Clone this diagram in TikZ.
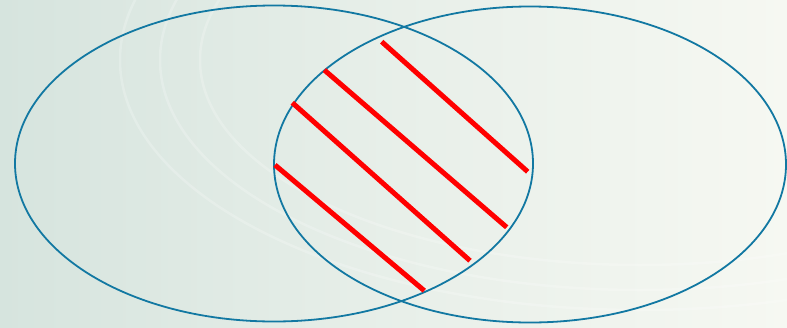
\documentclass[tikz,border=0pt]{standalone}
\usepackage{xcolor}
\usepackage{tikz}
\definecolor{bgleft}{RGB}{214,228,222}
\definecolor{bgright}{RGB}{246,248,242}
\definecolor{setblue}{RGB}{18,120,162}
\definecolor{hatchred}{RGB}{255,0,0}
\tikzset{
  setline/.style={draw=setblue, line width=1.8pt},
  hatch/.style={draw=hatchred, line width=5pt},
  swirl/.style={draw=white, opacity=0.22, line width=2.5pt},
}

\begin{document}
\begin{tikzpicture}[x=1pt, y=-1pt]
  % background
  \fill[left color=bgleft, right color=bgright, middle color=bgleft!45!bgright] (0,0) rectangle (787,327);
  \useasboundingbox (0,0) rectangle (787,327);
  \foreach \r/\s in {440/205, 480/230, 520/250}
    \draw[swirl] (640,60) ellipse [x radius=\r, y radius=\s];
  % the two sets
  \draw[setline] (274,163.5) ellipse [x radius=259, y radius=158];
  \draw[setline] (530,164.5) ellipse [x radius=256, y radius=158];
  % hatching of the common part
  \coordinate (h1a) at (381.7,41.7);  \coordinate (h1b) at (527.7,171.7);
  \coordinate (h2a) at (324.3,70);    \coordinate (h2b) at (506.7,227.3);
  \coordinate (h3a) at (292.3,102.7); \coordinate (h3b) at (470,260.7);
  \coordinate (h4a) at (275,165);     \coordinate (h4b) at (424.3,290.7);
  \foreach \i in {1,...,4}
    \draw[hatch] (h\i a) -- (h\i b);
\end{tikzpicture}
\end{document}
